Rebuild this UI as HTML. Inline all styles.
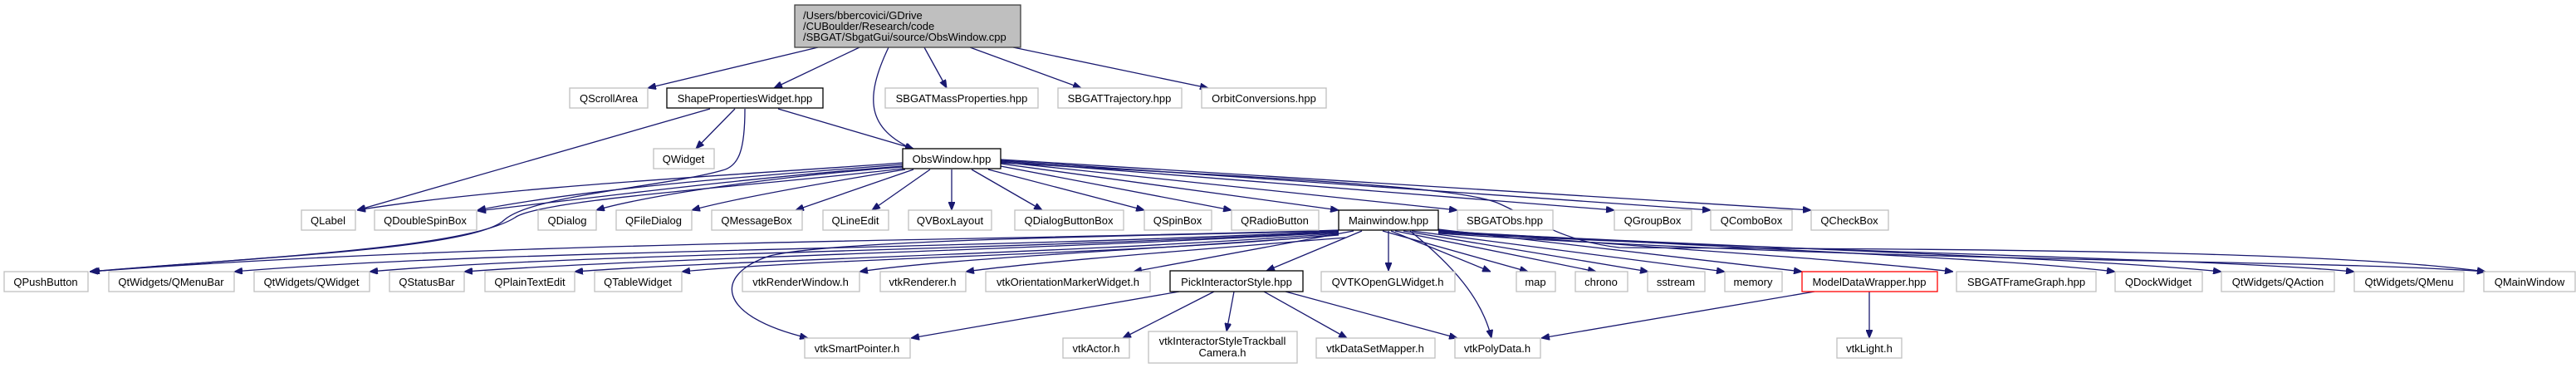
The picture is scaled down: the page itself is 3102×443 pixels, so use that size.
<!DOCTYPE html>
<html><head><meta charset="utf-8"><style>
html,body{margin:0;padding:0;background:#fff;}
svg{display:block;}
text{font-family:"Liberation Sans",Helvetica,Arial,sans-serif;font-size:13px;fill:#000;}
.n{fill:#fff;stroke:#bfbfbf;stroke-width:1.3;}
.b{fill:#fff;stroke:#000;stroke-width:1.3;}
.e{fill:none;stroke:#191970;stroke-width:1.3;}
</style></head><body>
<svg width="3102" height="443" viewBox="0 0 3102 443" xmlns="http://www.w3.org/2000/svg">
<defs><marker id="a" viewBox="0 0 10 8" refX="10" refY="4" markerWidth="10" markerHeight="8" markerUnits="userSpaceOnUse" orient="auto"><path d="M0,0 L10,4 L0,8 z" fill="#191970" stroke="#191970"/></marker></defs>

<g class="edges">
<path class="e" marker-end="url(#a)" d="M985,57 L780,106"/>
<path class="e" marker-end="url(#a)" d="M1035,57 L932,106"/>
<path class="e" marker-end="url(#a)" d="M1070,57 C1040,120 1045,155 1100,180"/>
<path class="e" marker-end="url(#a)" d="M1113,57 L1140,106"/>
<path class="e" marker-end="url(#a)" d="M1168,57 L1302,106"/>
<path class="e" marker-end="url(#a)" d="M1220,57 L1455,106"/>
<path class="e" marker-end="url(#a)" d="M855,131 L430,253"/>
<path class="e" marker-end="url(#a)" d="M885,131 L838,179"/>
<path class="e" marker-end="url(#a)" d="M937,131 L1100,179"/>
<path class="e" marker-end="url(#a)" d="M897,131 C897,180 890,200 870,205 C800,225 640,235 607,265 C570,300 300,310 108,327"/>
<path class="e" marker-end="url(#a)" d="M1087,196 C900,210 600,225 430,253"/>
<path class="e" marker-end="url(#a)" d="M1087,198 C900,212 700,228 575,253"/>
<path class="e" marker-end="url(#a)" d="M1087,200 C900,214 740,235 575,254"/>
<path class="e" marker-end="url(#a)" d="M1087,201 C900,215 760,240 718,253"/>
<path class="e" marker-end="url(#a)" d="M1090,204 C980,222 880,240 833,253"/>
<path class="e" marker-end="url(#a)" d="M1100,204 L958,253"/>
<path class="e" marker-end="url(#a)" d="M1120,204 L1050,253"/>
<path class="e" marker-end="url(#a)" d="M1146,204 L1146,253"/>
<path class="e" marker-end="url(#a)" d="M1170,204 L1255,253"/>
<path class="e" marker-end="url(#a)" d="M1190,204 L1378,253"/>
<path class="e" marker-end="url(#a)" d="M1205,200 L1483,253"/>
<path class="e" marker-end="url(#a)" d="M1205,197 L1612,253"/>
<path class="e" marker-end="url(#a)" d="M1205,195 L1755,253"/>
<path class="e" marker-end="url(#a)" d="M1205,194 L1944,253"/>
<path class="e" marker-end="url(#a)" d="M1205,193 L2060,253"/>
<path class="e" marker-end="url(#a)" d="M1205,192 L2181,253"/>
<path class="e" marker-end="url(#a)" d="M1205,196 C1550,215 1760,225 1805,245 C1850,265 1880,290 1950,298 C2300,300 2800,300 2993,327"/>
<path class="e" marker-end="url(#a)" d="M1087,203 C900,225 650,240 620,262 C560,300 300,310 110,327"/>
<path class="e" marker-end="url(#a)" d="M1612,277 C1200,290 600,290 108,327"/>
<path class="e" marker-end="url(#a)" d="M1612,278 C1200,300 600,300 282,327"/>
<path class="e" marker-end="url(#a)" d="M1612,279 C1200,302 700,305 445,327"/>
<path class="e" marker-end="url(#a)" d="M1612,280 C1200,303 800,310 559,327"/>
<path class="e" marker-end="url(#a)" d="M1612,281 C1300,305 900,312 692,327"/>
<path class="e" marker-end="url(#a)" d="M1612,282 C1400,305 1000,310 821,327"/>
<path class="e" marker-end="url(#a)" d="M1612,283 C1400,300 1150,310 1035,327"/>
<path class="e" marker-end="url(#a)" d="M1620,286 C1450,300 1250,315 1163,327"/>
<path class="e" marker-end="url(#a)" d="M1630,278 L1365,327"/>
<path class="e" marker-end="url(#a)" d="M1640,278 L1525,326"/>
<path class="e" marker-end="url(#a)" d="M1672,278 L1672,326"/>
<path class="e" marker-end="url(#a)" d="M1665,278 L1840,327"/>
<path class="e" marker-end="url(#a)" d="M1675,278 L1795,327"/>
<path class="e" marker-end="url(#a)" d="M1680,278 L1922,327"/>
<path class="e" marker-end="url(#a)" d="M1690,278 L1985,327"/>
<path class="e" marker-end="url(#a)" d="M1700,278 L2077,327"/>
<path class="e" marker-end="url(#a)" d="M1732,276 L2170,327"/>
<path class="e" marker-end="url(#a)" d="M1732,277 C2000,300 2200,310 2352,327"/>
<path class="e" marker-end="url(#a)" d="M1732,278 C2100,300 2400,310 2547,327"/>
<path class="e" marker-end="url(#a)" d="M1732,279 C2150,300 2500,310 2675,327"/>
<path class="e" marker-end="url(#a)" d="M1732,280 C2200,305 2650,310 2835,327"/>
<path class="e" marker-end="url(#a)" d="M1732,281 C2300,318 2800,312 2993,327"/>
<path class="e" marker-end="url(#a)" d="M1612,278 C1300,285 1000,290 927,308 C860,330 860,380 973,407"/>
<path class="e" marker-end="url(#a)" d="M1698,278 C1750,320 1785,360 1796,407"/>
<path class="e" marker-end="url(#a)" d="M1420,351 L1097,407"/>
<path class="e" marker-end="url(#a)" d="M1462,351 L1352,407"/>
<path class="e" marker-end="url(#a)" d="M1486,351 L1477,399"/>
<path class="e" marker-end="url(#a)" d="M1522,351 L1622,407"/>
<path class="e" marker-end="url(#a)" d="M1548,351 L1755,407"/>
<path class="e" marker-end="url(#a)" d="M2185,351 L1856,407"/>
<path class="e" marker-end="url(#a)" d="M2251,351 L2251,407"/>
</g>

<g>
<rect x="957" y="6" width="272" height="51" fill="#bfbfbf" stroke="#404040" stroke-width="1.3"/>
<text x="967" y="23">/Users/bbercovici/GDrive</text>
<text x="967" y="36">/CUBoulder/Research/code</text>
<text x="967" y="49">/SBGAT/SbgatGui/source/ObsWindow.cpp</text>
</g>

<g text-anchor="middle">
<rect class="n" x="686" y="106" width="94" height="24"/><text x="733" y="123">QScrollArea</text>
<rect class="b" x="803" y="106" width="188" height="24"/><text x="897" y="123">ShapePropertiesWidget.hpp</text>
<rect class="n" x="1066" y="106" width="184" height="24"/><text x="1158" y="123">SBGATMassProperties.hpp</text>
<rect class="n" x="1274" y="106" width="149" height="24"/><text x="1348" y="123">SBGATTrajectory.hpp</text>
<rect class="n" x="1447" y="106" width="150" height="24"/><text x="1522" y="123">OrbitConversions.hpp</text>

<rect class="n" x="787" y="179" width="73" height="24"/><text x="823" y="196">QWidget</text>
<rect class="b" x="1087" y="179" width="118" height="24"/><text x="1146" y="196">ObsWindow.hpp</text>

<rect class="n" x="363" y="253" width="65" height="24"/><text x="395" y="270">QLabel</text>
<rect class="n" x="451" y="253" width="123" height="24"/><text x="512" y="270">QDoubleSpinBox</text>
<rect class="n" x="648" y="253" width="70" height="24"/><text x="683" y="270">QDialog</text>
<rect class="n" x="742" y="253" width="91" height="24"/><text x="787" y="270">QFileDialog</text>
<rect class="n" x="857" y="253" width="109" height="24"/><text x="911" y="270">QMessageBox</text>
<rect class="n" x="991" y="253" width="79" height="24"/><text x="1030" y="270">QLineEdit</text>
<rect class="n" x="1094" y="253" width="100" height="24"/><text x="1144" y="270">QVBoxLayout</text>
<rect class="n" x="1222" y="253" width="131" height="24"/><text x="1287" y="270">QDialogButtonBox</text>
<rect class="n" x="1378" y="253" width="81" height="24"/><text x="1418" y="270">QSpinBox</text>
<rect class="n" x="1483" y="253" width="105" height="24"/><text x="1535" y="270">QRadioButton</text>
<rect class="b" x="1612" y="253" width="120" height="24"/><text x="1672" y="270">Mainwindow.hpp</text>
<rect class="n" x="1755" y="253" width="115" height="24"/><text x="1812" y="270">SBGATObs.hpp</text>
<rect class="n" x="1944" y="253" width="93" height="24"/><text x="1990" y="270">QGroupBox</text>
<rect class="n" x="2060" y="253" width="98" height="24"/><text x="2109" y="270">QComboBox</text>
<rect class="n" x="2181" y="253" width="93" height="24"/><text x="2227" y="270">QCheckBox</text>

<rect class="n" x="5" y="327" width="101" height="24"/><text x="55" y="344">QPushButton</text>
<rect class="n" x="131" y="327" width="151" height="24"/><text x="206" y="344">QtWidgets/QMenuBar</text>
<rect class="n" x="306" y="327" width="139" height="24"/><text x="375" y="344">QtWidgets/QWidget</text>
<rect class="n" x="469" y="327" width="90" height="24"/><text x="514" y="344">QStatusBar</text>
<rect class="n" x="584" y="327" width="108" height="24"/><text x="638" y="344">QPlainTextEdit</text>
<rect class="n" x="716" y="327" width="105" height="24"/><text x="768" y="344">QTableWidget</text>
<rect class="n" x="894" y="327" width="141" height="24"/><text x="964" y="344">vtkRenderWindow.h</text>
<rect class="n" x="1060" y="327" width="103" height="24"/><text x="1111" y="344">vtkRenderer.h</text>
<rect class="n" x="1187" y="327" width="198" height="24"/><text x="1286" y="344">vtkOrientationMarkerWidget.h</text>
<rect class="b" x="1409" y="326" width="160" height="25"/><text x="1489" y="344">PickInteractorStyle.hpp</text>
<rect class="n" x="1591" y="327" width="161" height="24"/><text x="1671" y="344">QVTKOpenGLWidget.h</text>
<rect class="n" x="1826" y="327" width="47" height="24"/><text x="1849" y="344">map</text>
<rect class="n" x="1897" y="327" width="63" height="24"/><text x="1928" y="344">chrono</text>
<rect class="n" x="1984" y="327" width="69" height="24"/><text x="2018" y="344">sstream</text>
<rect class="n" x="2077" y="327" width="69" height="24"/><text x="2111" y="344">memory</text>
<rect x="2170" y="327" width="163" height="24" fill="#fff" stroke="#ff0000" stroke-width="1.3"/><text x="2251" y="344">ModelDataWrapper.hpp</text>
<rect class="n" x="2356" y="327" width="168" height="24"/><text x="2440" y="344">SBGATFrameGraph.hpp</text>
<rect class="n" x="2547" y="327" width="105" height="24"/><text x="2599" y="344">QDockWidget</text>
<rect class="n" x="2675" y="327" width="136" height="24"/><text x="2743" y="344">QtWidgets/QAction</text>
<rect class="n" x="2835" y="327" width="132" height="24"/><text x="2901" y="344">QtWidgets/QMenu</text>
<rect class="n" x="2991" y="327" width="110" height="24"/><text x="3046" y="344">QMainWindow</text>

<rect class="n" x="969" y="407" width="127" height="24"/><text x="1032" y="424">vtkSmartPointer.h</text>
<rect class="n" x="1280" y="407" width="80" height="24"/><text x="1320" y="424">vtkActor.h</text>
<rect class="n" x="1383" y="399" width="179" height="38"/><text x="1472" y="415">vtkInteractorStyleTrackball</text><text x="1472" y="429">Camera.h</text>
<rect class="n" x="1585" y="407" width="143" height="24"/><text x="1656" y="424">vtkDataSetMapper.h</text>
<rect class="n" x="1752" y="407" width="103" height="24"/><text x="1803" y="424">vtkPolyData.h</text>
<rect class="n" x="2212" y="407" width="78" height="24"/><text x="2251" y="424">vtkLight.h</text>
</g>
</svg>
</body></html>
